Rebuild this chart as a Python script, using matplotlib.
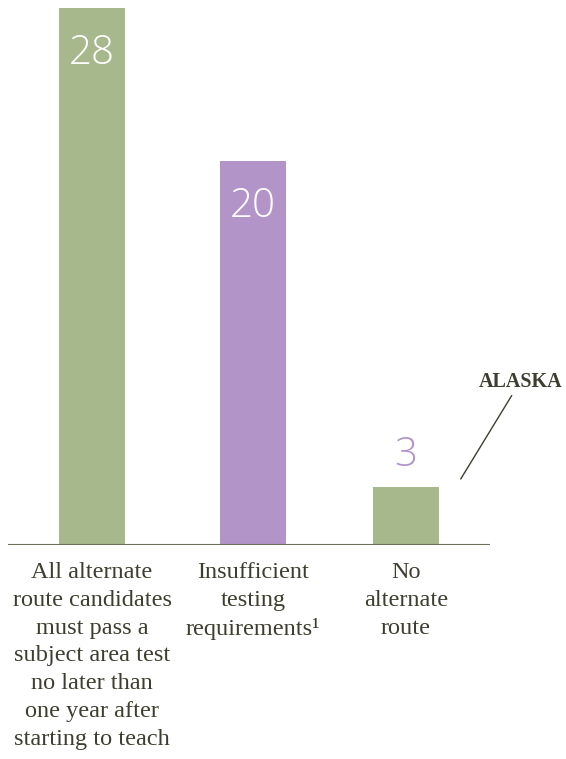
import matplotlib
matplotlib.use("Agg")
import matplotlib.pyplot as plt

# states per category
categories = [
    "All alternate\nroute candidates\nmust pass a\nsubject area test\nno later than\none year after\nstarting to teach",
    "Insufficient\ntesting\nrequirements\u00b9",
    "No\nalternate\nroute",
]
counts = [28, 20, 3]
colors = ["#a6b88c", "#b394c8", "#a6b88c"]
pos = [0, 1, 1.95]

W, H = 566, 759
fig = plt.figure(figsize=(W / 100, H / 100), dpi=100)
base_y = 545
top_y = 8
ax = fig.add_axes([8 / W, (H - base_y) / H, (490 - 8) / W, (base_y - top_y) / H])
ax.set_xlim(-0.522, 2.472)
ax.set_ylim(0, 28)
ax.axis("off")

ax.bar(pos, counts, width=0.41, color=colors, zorder=2)
ax.axhline(0, color="#6e6e5a", lw=1.5, zorder=3)

num_font = dict(family="Open Sans", weight="light", fontsize=29)
for p, v in zip(pos, counts):
    if v > 5:
        ax.text(p, v - 2.35, str(v), ha="center", va="center", color="white", **num_font)
    else:
        ax.text(p, v + 1.65, str(v), ha="center", va="center", color="#b394c8", **num_font)

txt = "#3e3e30"
for p, lab in zip(pos, categories):
    ax.text(p, -0.9, lab, ha="center", va="top", color=txt,
            family="Liberation Serif", fontsize=17.5, linespacing=1.42)

ax.annotate("ALASKA", xy=(2.29, 3.44), xytext=(2.66, 8.0),
            ha="center", va="bottom", color=txt, family="Liberation Serif",
            weight="bold", fontsize=14.5,
            arrowprops=dict(arrowstyle="-", color="#3e3e30", lw=1, shrinkA=1, shrinkB=0))

fig.savefig("out.png", dpi=100)
